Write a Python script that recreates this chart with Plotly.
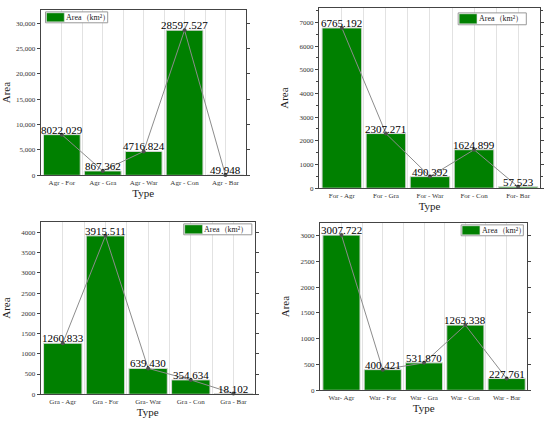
import plotly.graph_objects as go

cats1 = ["Agr - For", "Agr - Gra", "Agr - War", "Agr - Con", "Agr - Bar"]
vals1 = [8022.029, 867.362, 4716.824, 28597.527, 49.948]
cats2 = ["For - Agr", "For - Gra", "For - War", "For - Con", "For- Bar"]
vals2 = [6765.192, 2307.271, 490.392, 1624.899, 57.523]
cats3 = ["Gra - Agr", "Gra - For", "Gra- War", "Gra - Con", "Gra - Bar"]
vals3 = [1260.833, 3915.511, 639.430, 354.634, 18.102]
cats4 = ["War- Agr", "War - For", "War - Gra", "War - Con", "War - Bar"]
vals4 = [3007.722, 400.421, 531.870, 1263.338, 227.761]
legend_label = "Area\uff08km\u00b2\uff09"

W, H = 550, 425
SERIF = "Liberation Serif, Times New Roman, serif"

panels = [
    dict(cats=cats1, vals=vals1, px=(34, 242), py=(10, 177), yr=[0, 32600], dt=5000, fmt=",",
         leg=(39, 12, 102, 23)),
    dict(cats=cats2, vals=vals2, px=(316, 540), py=(8, 190), yr=[0, 7610], dt=1000, fmt="",
         leg=(457, 13, 526, 25)),
    dict(cats=cats3, vals=vals3, px=(34, 251), py=(224, 398), yr=[0, 4260], dt=500, fmt="",
         leg=(179, 226, 248, 237)),
    dict(cats=cats4, vals=vals4, px=(317, 527), py=(225, 394), yr=[0, 3245], dt=500, fmt="",
         leg=(460, 227, 523, 238)),
]

fig = go.Figure()
layout = {}
shapes = []
annotations = []


def fx(v):
    return v / W


def fy(v):
    return 1 - v / H


for i, p in enumerate(panels):
    n = "" if i == 0 else str(i + 1)
    xa, ya = "x" + n, "y" + n
    xs = list(range(len(p["cats"])))
    fig.add_trace(go.Bar(
        x=xs, y=p["vals"], xaxis=xa, yaxis=ya,
        name=legend_label, showlegend=False, width=0.9,
        marker=dict(color="#008000", line=dict(color="#d8d8d8", width=1)),
    ))
    fig.add_trace(go.Scatter(
        x=xs, y=p["vals"], xaxis=xa, yaxis=ya,
        mode="lines+markers", showlegend=False,
        line=dict(color="#8c8c8c", width=1),
        marker=dict(color="#505050", size=4),
        cliponaxis=False,
    ))
    for xv, yv in zip(xs, p["vals"]):
        annotations.append(dict(
            x=xv, y=yv, xref=xa, yref=ya, text=f"{yv:.3f}", showarrow=False,
            xanchor="center", yanchor="bottom", yshift=-3,
            font=dict(family=SERIF, size=11, color="black"),
        ))
    x0, x1 = fx(p["px"][0]), fx(p["px"][1])
    y0, y1 = fy(p["py"][1]), fy(p["py"][0])
    layout["xaxis" + n] = dict(
        domain=[x0, x1], anchor=ya, range=[-0.52, 4.5],
        tickmode="array", tickvals=xs, ticktext=p["cats"],
        tickfont=dict(family=SERIF, size=7, color="#333"),
        showline=True, linecolor="#444", linewidth=1, mirror=True,
        ticks="", showgrid=True, gridcolor="#e2e2e2", gridwidth=1,
        minor=dict(showgrid=True, gridcolor="#e2e2e2", dtick=0.5, tick0=0.5),
        title=dict(text="Type", font=dict(family=SERIF, size=11, color="#222"), standoff=0),
        zeroline=False, fixedrange=True,
    )
    layout["yaxis" + n] = dict(
        domain=[y0, y1], anchor=xa, range=p["yr"], dtick=p["dt"], tickformat=p["fmt"],
        tickfont=dict(family=SERIF, size=7, color="#333"),
        showline=True, linecolor="#444", linewidth=1, mirror="ticks",
        ticks="outside", ticklen=3, tickcolor="#444",
        minor=dict(ticks="outside", ticklen=2, tickcolor="#444", nticks=2),
        showgrid=False, zeroline=False,
        title=dict(text="Area", font=dict(family=SERIF, size=11, color="#222"), standoff=8),
    )
    # legend box
    lx0, ly0, lx1, ly1 = p["leg"]
    shapes.append(dict(type="rect", xref="paper", yref="paper",
                       x0=fx(lx0), x1=fx(lx1), y0=fy(ly1), y1=fy(ly0),
                       fillcolor="white", line=dict(color="#999", width=1), layer="above"))
    shapes.append(dict(type="rect", xref="paper", yref="paper",
                       x0=fx(lx0 + 1), x1=fx(lx0 + 19), y0=fy(ly1 - 1), y1=fy(ly0 + 1),
                       fillcolor="#008000", line=dict(color="#d8d8d8", width=0.5), layer="above"))
    annotations.append(dict(
        x=fx(lx0 + 19), y=fy((ly0 + ly1) / 2), xref="paper", yref="paper",
        text=legend_label, showarrow=False, xanchor="left", yanchor="middle",
        font=dict(family=SERIF, size=8, color="#222"),
    ))

fig.update_layout(
    width=W, height=H, margin=dict(l=0, r=0, t=0, b=0),
    paper_bgcolor="white", plot_bgcolor="white",
    showlegend=False, barmode="overlay",
    shapes=shapes, annotations=annotations,
    **layout,
)
fig.write_html("out.html", config={"displayModeBar": False},
               post_script="document.body.style.margin='0px';")
